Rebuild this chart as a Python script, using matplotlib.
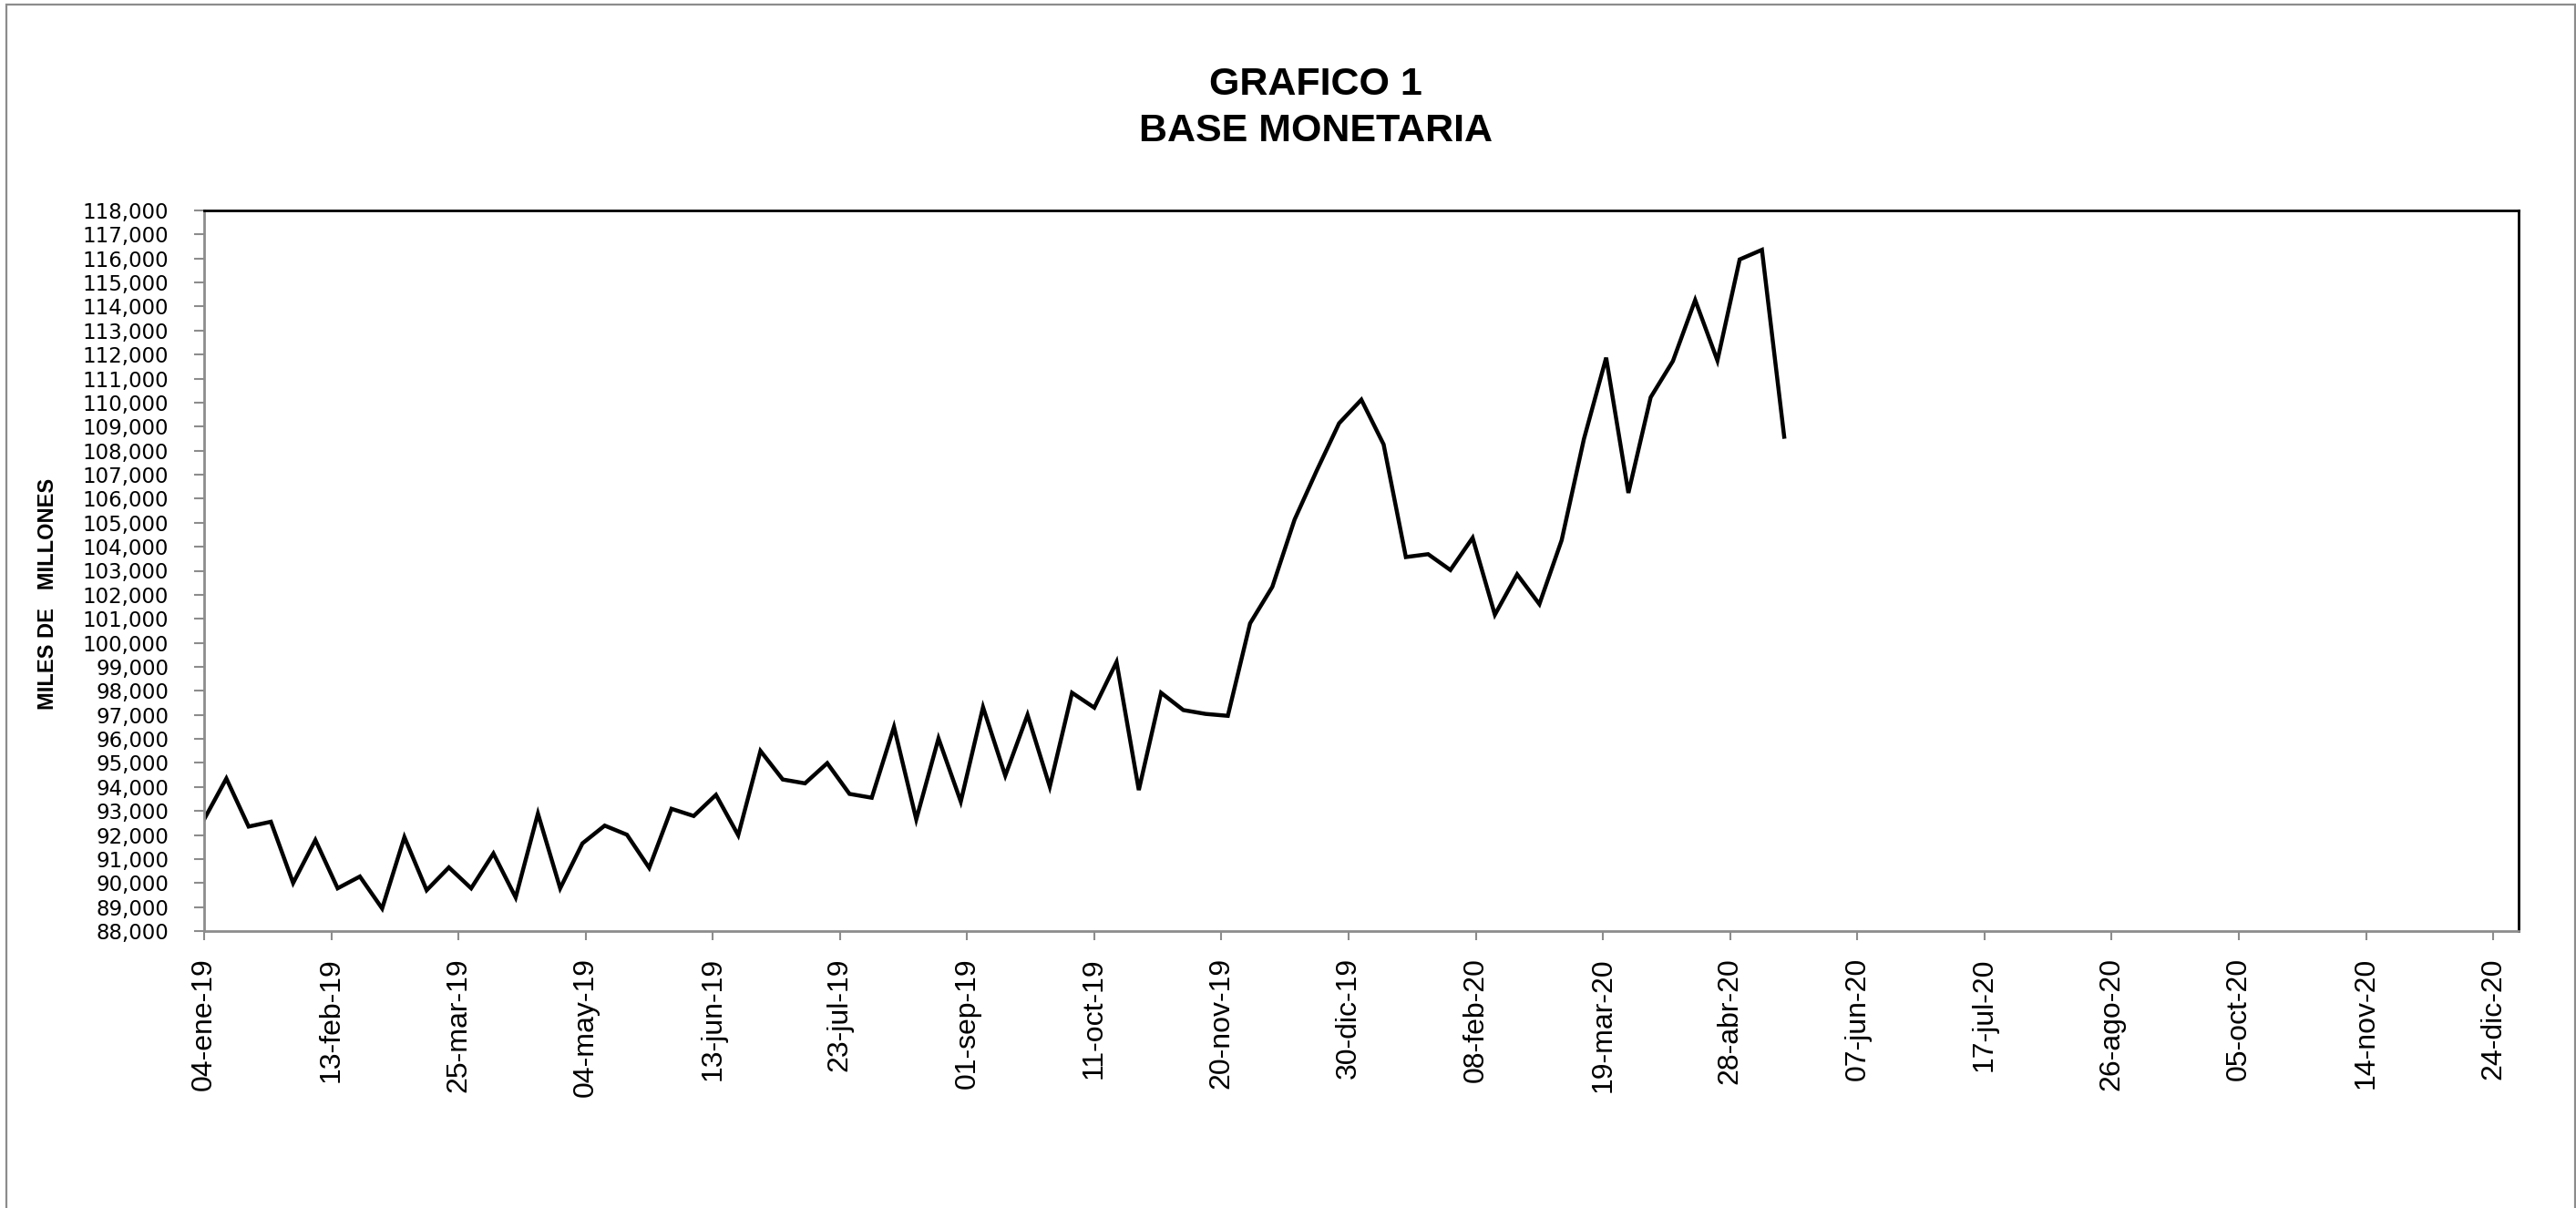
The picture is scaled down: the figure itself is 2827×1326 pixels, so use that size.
import matplotlib
matplotlib.use("Agg")
import matplotlib.pyplot as plt
from matplotlib.patches import Rectangle
from matplotlib.ticker import FuncFormatter
import numpy as np
import pandas as pd

# ---- data ----
start_date = "2019-01-04"
n_weeks = 72
base_monetaria = [
    92650, 94350, 92350, 92550, 90000, 91790, 89780, 90270, 88940, 91910,
    89700, 90650, 89780, 91230, 89400, 92890, 89780, 91650, 92390, 92010,
    90630, 93090, 92790, 93670, 91990, 95500, 94310, 94150, 94990, 93710,
    93550, 96500, 92650, 96020, 93390, 97320, 94470, 97000, 94010, 97920,
    97300, 99200, 93870, 97920, 97200, 97040, 96960, 100810, 102330, 105130,
    107180, 109140, 110120, 108260, 103570, 103690, 103030, 104370, 101170, 102850,
    101610, 104270, 108480, 111870, 106240, 110220, 111730, 114270, 111750, 115960,
    116360, 108580,
]
tick_dates = [
    "2019-01-04", "2019-02-13", "2019-03-25", "2019-05-04", "2019-06-13",
    "2019-07-23", "2019-09-01", "2019-10-11", "2019-11-20", "2019-12-30",
    "2020-02-08", "2020-03-19", "2020-04-28", "2020-06-07", "2020-07-17",
    "2020-08-26", "2020-10-05", "2020-11-14", "2020-12-24",
]
tick_labels = [
    "04-ene-19", "13-feb-19", "25-mar-19", "04-may-19", "13-jun-19",
    "23-jul-19", "01-sep-19", "11-oct-19", "20-nov-19", "30-dic-19",
    "08-feb-20", "19-mar-20", "28-abr-20", "07-jun-20", "17-jul-20",
    "26-ago-20", "05-oct-20", "14-nov-20", "24-dic-20",
]
x_min, x_max = "2019-01-04", "2021-01-01"
y_min, y_max, y_step = 88000, 118000, 1000
title_lines = ["GRAFICO 1", "BASE MONETARIA"]
y_label = "MILES DE   MILLONES"

dates = pd.date_range(start_date, periods=n_weeks, freq="7D")

W, H = 2827, 1326
fig = plt.figure(figsize=(W / 100, H / 100), dpi=100)
fig.patch.set_facecolor("white")

left, right, top, bottom = 224, 2764, 231, 1022
ax = fig.add_axes([left / W, 1 - bottom / H, (right - left) / W, (bottom - top) / H])

ax.plot(dates, base_monetaria, color="black", lw=3.2, solid_joinstyle="miter")

ax.set_xlim(pd.Timestamp(x_min), pd.Timestamp(x_max))
ax.set_ylim(y_min, y_max)
ax.set_yticks(np.arange(y_min, y_max + 1, y_step))
ax.yaxis.set_major_formatter(FuncFormatter(lambda v, p: f"{int(v):,}"))
ax.set_xticks([pd.Timestamp(d) for d in tick_dates])
ax.set_xticklabels(tick_labels, rotation=90, fontfamily="Liberation Sans", fontsize=23)

for lab in ax.get_yticklabels():
    lab.set_fontfamily("DejaVu Sans")
    lab.set_fontsize(16.5)

ax.tick_params(axis="y", direction="out", length=8, width=1.5, color="#8c8c8c", pad=20)
ax.tick_params(axis="x", direction="out", length=7, width=1.5, color="#8c8c8c", pad=14)

for s in ["left", "bottom"]:
    ax.spines[s].set_color("#8c8c8c")
    ax.spines[s].set_linewidth(2.0)
for s in ["top", "right"]:
    ax.spines[s].set_color("black")
    ax.spines[s].set_linewidth(2.0)

# title
fig.text(1444 / W, 1 - 93 / H, title_lines[0], ha="center", va="center",
         fontfamily="Liberation Sans", fontweight="bold", fontsize=31)
fig.text(1444 / W, 1 - 144 / H, title_lines[1], ha="center", va="center",
         fontfamily="Liberation Sans", fontweight="bold", fontsize=31)

# y label
fig.text(53 / W, 1 - 652 / H, y_label, rotation=90, ha="center", va="center",
         fontfamily="Liberation Sans", fontweight="bold", fontsize=17)

# chart frame
fig.add_artist(Rectangle((7 / W, -0.01), (W - 8) / W, 1 - 5 / H + 0.01,
                         transform=fig.transFigure, fill=False,
                         edgecolor="#8c8c8c", linewidth=1.6))

fig.savefig("out.png", dpi=100, facecolor="white")
